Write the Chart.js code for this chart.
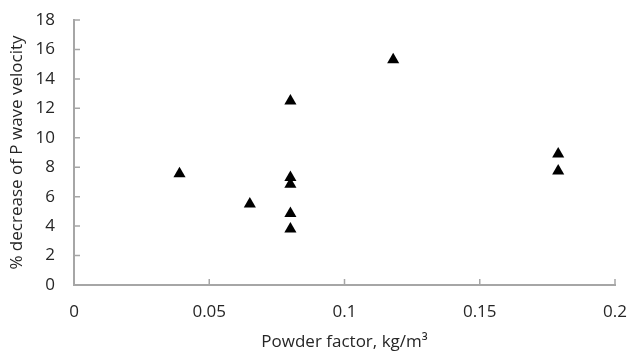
<!DOCTYPE html>
<html>
<head>
<meta charset="utf-8">
<script src="https://cdn.jsdelivr.net/npm/chart.js@4"></script>
<style>
  html, body { margin: 0; padding: 0; background: #fff; }
  #wrap { width: 628px; height: 351px; }
</style>
</head>
<body>
<div id="wrap"><canvas id="grafico"></canvas></div>
<script>
// dados
const powderFactor = [0.039, 0.065, 0.08, 0.08, 0.08, 0.08, 0.08, 0.118, 0.179, 0.179];
const pwaveDecrease = [7.55, 5.5, 12.5, 7.3, 6.85, 4.85, 3.8, 15.3, 8.9, 7.75];
const xTicks = [0, 0.05, 0.1, 0.15, 0.2];
const yTicks = [0, 2, 4, 6, 8, 10, 12, 14, 16, 18];

const eixoCor = '#a6a6a6';
const textoCor = '#262626';
const fonte = { family: "'Open Sans', sans-serif", size: 17 };

const pontos = powderFactor.map((x, i) => ({ x: x, y: pwaveDecrease[i] }));

// zera o padding automatico das escalas, o layout controla
function semPadding(s) {
    s.paddingLeft = 0;
    s.paddingRight = 0;
    s.paddingTop = 0;
    s.paddingBottom = 0;
}

// marcas dos eixos para dentro
const ticksDentro = {
    id: 'ticksDentro',
    afterDraw(chart) {
        const ctx = chart.ctx;
        const xs = chart.scales.x;
        const ys = chart.scales.y;
        ctx.save();
        ctx.strokeStyle = eixoCor;
        ctx.lineWidth = 1.5;
        ctx.beginPath();
        xTicks.forEach(v => {
            const px = xs.getPixelForValue(v);
            ctx.moveTo(px, ys.bottom);
            ctx.lineTo(px, ys.bottom - 6);
        });
        yTicks.forEach(v => {
            const py = ys.getPixelForValue(v);
            ctx.moveTo(xs.left, py);
            ctx.lineTo(xs.left + 6, py);
        });
        ctx.stroke();
        ctx.restore();
    }
};

const ctxGrafico = document.getElementById('grafico');
new Chart(ctxGrafico, {
    type: 'scatter',
    data: {
        datasets: [{
            data: pontos,
            pointStyle: 'triangle',
            pointRadius: 7,
            pointHoverRadius: 7,
            backgroundColor: '#000',
            borderColor: '#000',
            borderWidth: 0
        }]
    },
    options: {
        responsive: true,
        maintainAspectRatio: false,
        animation: false,
        events: [],
        layout: { padding: { top: 20, right: 13, left: 0, bottom: 0 } },
        plugins: { legend: { display: false }, tooltip: { enabled: false } },
        scales: {
            x: {
                type: 'linear',
                min: 0,
                max: 0.2,
                afterBuildTicks: (s) => { s.ticks = xTicks.map(v => ({ value: v })); },
                afterFit: (s) => { s.height = 66; semPadding(s); },
                grid: { display: true, drawOnChartArea: false, drawTicks: false },
                border: { display: true, color: eixoCor, width: 2 },
                ticks: {
                    color: textoCor,
                    font: fonte,
                    padding: 17,
                    maxRotation: 0,
                    callback: (v) => String(+Number(v).toFixed(2))
                },
                title: {
                    display: true,
                    text: 'Powder factor, kg/m³',
                    color: textoCor,
                    font: fonte,
                    padding: { top: 0, bottom: -1 }
                }
            },
            y: {
                type: 'linear',
                min: 0,
                max: 18,
                afterBuildTicks: (s) => { s.ticks = yTicks.map(v => ({ value: v })); },
                afterFit: (s) => { s.width = 74; semPadding(s); },
                grid: { display: true, drawOnChartArea: false, drawTicks: false },
                border: { display: true, color: eixoCor, width: 2 },
                ticks: {
                    color: textoCor,
                    font: fonte,
                    padding: 19
                },
                title: {
                    display: true,
                    text: '% decrease of P wave velocity',
                    color: textoCor,
                    font: fonte,
                    padding: { top: 7, bottom: 0 }
                }
            }
        }
    },
    plugins: [ticksDentro]
});
</script>
</body>
</html>
